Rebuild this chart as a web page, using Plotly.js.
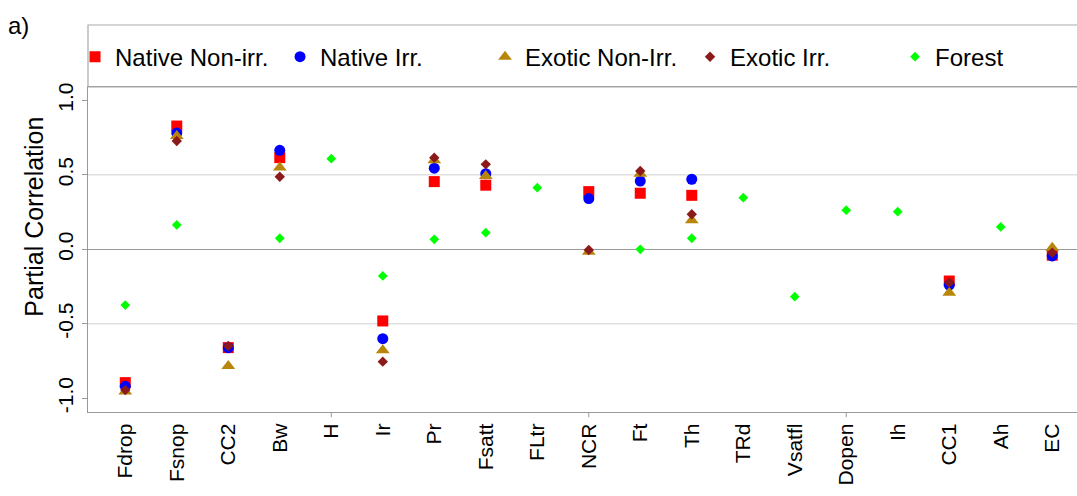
<!DOCTYPE html>
<html>
<head>
<meta charset="utf-8">
<script src="https://cdn.plot.ly/plotly-3.0.1.min.js"></script>
<style>
html, body { margin: 0; padding: 0; background: #fff; overflow: hidden; }
#chart { width: 1150px; height: 496px; }
</style>
</head>
<body>
<div id="chart"></div>
<script>
const categories = ['Fdrop','Fsnop','CC2','Bw','H','Ir','Pr','Fsatt','FLtr','NCR','Ft','Th','TRd','Vsatfl','Dopen','Ih','CC1','Ah','EC'];

const nativeNonIrr = [-0.895, 0.827, -0.66, 0.615, null, -0.481, 0.454, 0.43, null, 0.387, 0.376, 0.362, null, null, null, null, -0.213, null, -0.04];
const nativeIrr    = [-0.92, 0.78, -0.66, 0.664, null, -0.60, 0.544, 0.507, null, 0.34, 0.458, 0.47, null, null, null, null, -0.24, null, -0.045];
const exoticNonIrr = [-0.955, 0.76, -0.783, 0.548, null, -0.678, 0.597, 0.492, null, -0.016, 0.507, 0.195, null, null, null, null, -0.291, null, 0.011];
const exoticIrr    = [-0.945, 0.727, -0.649, 0.487, null, -0.754, 0.615, 0.57, null, -0.005, 0.525, 0.235, null, null, null, null, -0.224, null, -0.023];
const forest       = [-0.374, 0.163, null, 0.074, 0.608, -0.179, 0.067, 0.111, 0.413, null, 0.0, 0.074, 0.346, -0.318, 0.262, 0.252, null, 0.150, null];

const seriesNames = ['Native Non-irr.', 'Native Irr.', 'Exotic Non-Irr.', 'Exotic Irr.', 'Forest'];
const yTickVals = [-1, -0.5, 0, 0.5, 1];
const yTickText = ['-1.0', '-0.5', '0.0', '0.5', '1.0'];
const gridVals = [-0.5, 0.5];
const xTickMarkCats = ['H', 'NCR', 'Dopen'];
const yTitle = 'Partial Correlation';
const panelLabel = 'a)';

const FONT = 'Arial, "Liberation Sans", sans-serif';

function tr(name, y, symbol, color, size) {
  return {
    type: 'scatter', mode: 'markers', name: name,
    x: categories, y: y,
    marker: { symbol: symbol, color: color, size: size, line: { width: 0 } },
    cliponaxis: false
  };
}

const data = [
  tr(seriesNames[0], nativeNonIrr, 'square', '#FF0000', 11),
  tr(seriesNames[1], nativeIrr, 'circle', '#0000FF', 11),
  tr(seriesNames[2], exoticNonIrr, 'triangle-up', '#B8860B', 12),
  tr(seriesNames[3], exoticIrr, 'diamond', '#8B1A1A', 8),
  tr(seriesNames[4], forest, 'diamond', '#00FF00', 7.5)
];

const shapes = [];
gridVals.forEach(v => shapes.push({
  type: 'line', xref: 'paper', yref: 'y', x0: 0, x1: 1, y0: v, y1: v,
  line: { color: '#e0e0e0', width: 1.5 }, layer: 'below'
}));
xTickMarkCats.forEach(c => {
  const i = categories.indexOf(c);
  shapes.push({
    type: 'line', xref: 'x', yref: 'paper', x0: i, x1: i, y0: 0, y1: -0.016,
    line: { color: '#999', width: 1 }
  });
});
// legend box
shapes.push({
  type: 'rect', xref: 'paper', yref: 'paper', x0: 0, x1: 1.02, y0: 1, y1: 1.1908,
  line: { color: '#aaaaaa', width: 1.2 }, fillcolor: 'rgba(0,0,0,0)'
});

const layout = {
  width: 1150, height: 496,
  margin: { l: 88, r: 65, t: 87, b: 84 },
  paper_bgcolor: '#fff', plot_bgcolor: '#fff',
  font: { family: FONT, color: '#000' },
  showlegend: true,
  legend: {
    orientation: 'h', x: -0.013, xanchor: 'left', y: 1.092, yanchor: 'middle',
    font: { family: FONT, size: 24, color: '#000' },
    entrywidth: 160, entrywidthmode: 'pixels',
    bgcolor: 'rgba(0,0,0,0)', borderwidth: 0, itemsizing: 'trace'
  },
  xaxis: {
    type: 'category', range: [-0.724, 18.636],
    showgrid: false, zeroline: false,
    showline: true, linecolor: '#999', linewidth: 1.2, mirror: true,
    ticks: '', tickangle: -90, ticklabelstandoff: 2,
    tickfont: { family: FONT, size: 21, color: '#000' },
    tickmode: 'array', tickvals: categories, ticktext: categories
  },
  yaxis: {
    range: [-1.092, 1.089],
    showgrid: false,
    zeroline: true, zerolinecolor: '#999', zerolinewidth: 1.2,
    showline: true, linecolor: '#999', linewidth: 1.2, mirror: true,
    ticks: 'outside', ticklen: 5, tickcolor: '#999',
    tickmode: 'array', tickvals: yTickVals, ticktext: yTickText,
    tickangle: -90,
    tickfont: { family: FONT, size: 21, color: '#000' }
  },
  shapes: shapes,
  annotations: [
    {
      text: panelLabel, xref: 'paper', yref: 'paper', x: -0.082, y: 1.19, xanchor: 'left', yanchor: 'middle',
      showarrow: false, font: { family: FONT, size: 24, color: '#000' }
    },
    {
      text: yTitle, xref: 'paper', yref: 'paper', x: -0.0545, y: 0.6, xanchor: 'center', yanchor: 'middle',
      textangle: -90, showarrow: false, font: { family: FONT, size: 25, color: '#000' }
    }
  ]
};

Plotly.newPlot('chart', data, layout, { displayModeBar: false, staticPlot: true });
</script>
</body>
</html>
